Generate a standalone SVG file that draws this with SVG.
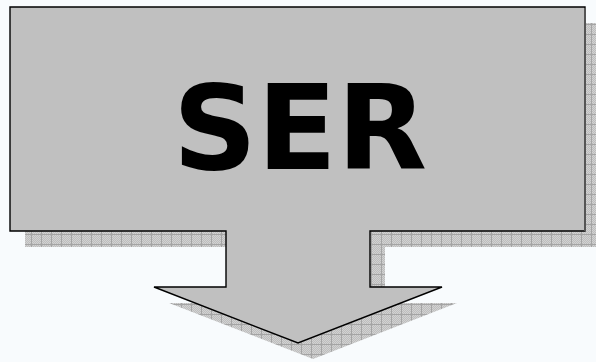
<svg xmlns="http://www.w3.org/2000/svg" width="596" height="362" viewBox="0 0 596 362">
  <defs>
    <pattern id="dots" x="0" y="0" width="2" height="2" patternUnits="userSpaceOnUse">
      <rect width="2" height="2" fill="#d2d2d2"/>
      <rect width="1" height="1" fill="#bdbdbd"/>
      <rect x="1" y="1" width="1" height="1" fill="#bdbdbd"/>
    </pattern>
    <pattern id="grid" x="6" y="8" width="10" height="10" patternUnits="userSpaceOnUse">
      <rect width="10" height="10" fill="url(#dots)"/>
      <path d="M0.5 0 V10 M0 0.5 H10" stroke="#a4a4a4" stroke-width="1" fill="none"/>
    </pattern>
    <style>
      .shadow { fill: url(#grid); stroke: none; }
      .shape { fill: #c0c0c0; stroke: #000000; stroke-width: 1.4; stroke-linejoin: miter; }
      .label { font-family: "DejaVu Sans", Verdana, sans-serif; font-weight: bold; font-size: 117px; fill: #000000; }
    </style>
  </defs>
  <rect width="596" height="362" fill="#f8fbfd"/>
  <g id="arrow-callout">
    <path class="shadow" transform="translate(15,16)" d="M10 7 H585 V231 H370 V287 H442 L298 343 L154 287 H226 V231 H10 Z"/>
    <path class="shape" d="M10 7 H585 V231 H370 V287 H442 L298 343 L154 287 H226 V231 H10 Z"/>
    <path d="M585 8 V231" stroke="#555555" stroke-width="2" fill="none"/>
    <text class="label" x="300" y="169" text-anchor="middle">SER</text>
  </g>
</svg>
